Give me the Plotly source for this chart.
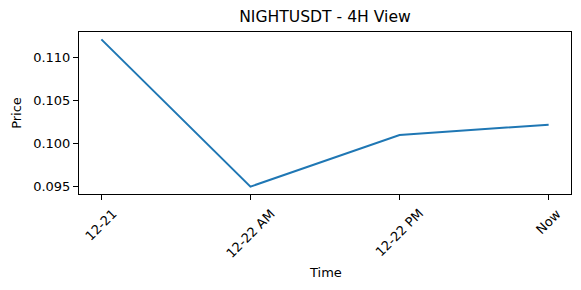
import plotly.graph_objects as go

categories = ["12-21", "12-22 AM", "12-22 PM", "Now"]
prices = [0.1121, 0.0950, 0.1010, 0.1022]
y_ticks = [0.095, 0.100, 0.105, 0.110]
title_text = "NIGHTUSDT - 4H View"

FONT = "DejaVu Sans"
x_idx = list(range(len(categories)))

fig = go.Figure()
fig.add_trace(go.Scatter(x=x_idx, y=prices, mode="lines",
                         line=dict(color="#1f77b4", width=2)))

ymin, ymax = min(prices), max(prices)
pad = (ymax - ymin) * 0.05
n = len(categories) - 1
fig.update_layout(
    width=581, height=290,
    margin=dict(l=79, r=10, t=32, b=96),
    paper_bgcolor="white", plot_bgcolor="white",
    showlegend=False,
    font=dict(family=FONT, size=13, color="black"),
    title=dict(text=title_text, x=(79 + 571) / 2 / 581, xanchor="center",
               y=1 - 17 / 290, yanchor="middle",
               font=dict(family=FONT, size=15.6, color="black")),
    xaxis=dict(range=[-0.05 * n, n + 0.05 * n], tickvals=x_idx,
               ticktext=[""] * len(categories),
               showgrid=False, zeroline=False, showline=True, linecolor="black",
               linewidth=1, mirror=True, ticks="outside", ticklen=5,
               tickcolor="black"),
    yaxis=dict(range=[ymin - pad, ymax + pad], tickvals=y_ticks,
               tickformat=".3f", showgrid=False, zeroline=False, showline=True,
               linecolor="black", linewidth=1, mirror=True, ticks="outside",
               ticklen=5, tickcolor="black",
               title=dict(text="Price", font=dict(size=13), standoff=8)),
)

for i, lab in enumerate(categories):
    fig.add_annotation(x=i, y=-9 / 162, xref="x", yref="paper",
                       text=lab, textangle=-45, showarrow=False,
                       xanchor="center", yanchor="top",
                       font=dict(family=FONT, size=13, color="black"))

fig.add_annotation(x=0.5, y=-78 / 162, xref="paper", yref="paper",
                   text="Time", showarrow=False, xanchor="center",
                   yanchor="middle", font=dict(family=FONT, size=13, color="black"))

fig.write_html("out.html")
